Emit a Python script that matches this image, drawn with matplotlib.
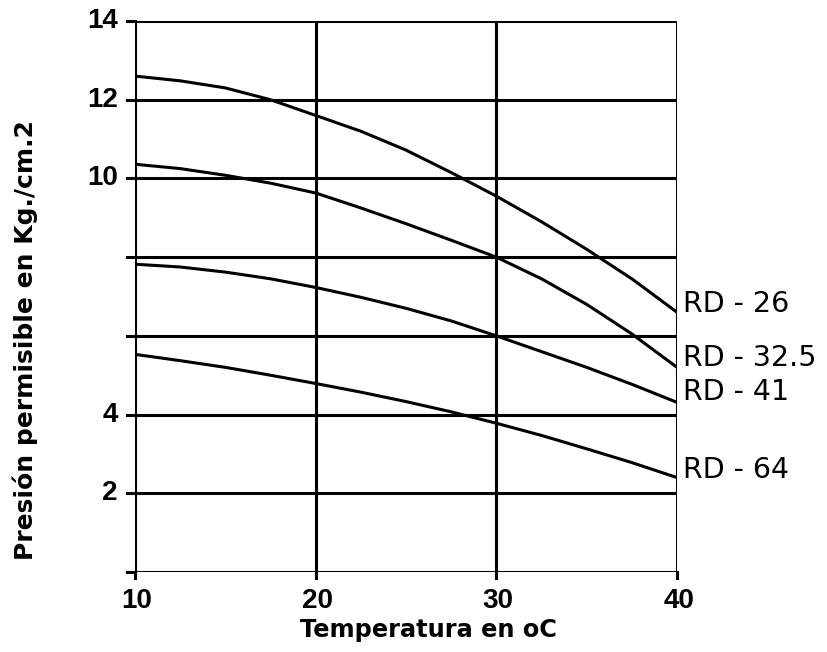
import matplotlib
matplotlib.use("Agg")
import matplotlib.pyplot as plt

plt.rcParams['font.family'] = ['Liberation Sans', 'DejaVu Sans']

temperature = [10, 12.5, 15, 17.5, 20, 22.5, 25, 27.5, 30, 32.5, 35, 37.5, 40]
rd_26 = [12.6, 12.48, 12.3, 12.0, 11.6, 11.2, 10.72, 10.15, 9.55, 8.9, 8.2, 7.45, 6.6]
rd_32_5 = [10.36, 10.25, 10.08, 9.88, 9.63, 9.25, 8.85, 8.43, 8.0, 7.45, 6.8, 6.05, 5.2]
rd_41 = [7.82, 7.75, 7.62, 7.45, 7.23, 6.98, 6.7, 6.38, 6.0, 5.6, 5.2, 4.77, 4.31]
rd_64 = [5.53, 5.37, 5.2, 5.0, 4.79, 4.57, 4.33, 4.07, 3.78, 3.47, 3.13, 2.78, 2.4]

series_labels = ["RD - 26", "RD - 32.5", "RD - 41", "RD - 64"]
label_y = [6.8, 5.45, 4.58, 2.6]

x_ticks = [10, 20, 30, 40]
y_grid = [0, 2, 4, 6, 8, 10, 12, 14]
y_tick_labels = {2: "2", 4: "4", 10: "10", 12: "12", 14: "14"}

fig = plt.figure(figsize=(8.27, 6.52), dpi=100)
ax = fig.add_axes([0.1632, 0.1227, 0.6554, 0.8451])
ax.set_xlim(10, 40)
ax.set_ylim(0, 14)

lw = 2.2
for yv in y_grid:
    ax.axhline(yv, color='black', lw=lw, zorder=1)
    ax.plot([9.55, 10], [yv, yv], color='black', lw=lw, clip_on=False, zorder=1)
for xv in x_ticks:
    ax.axvline(xv, color='black', lw=lw, zorder=1)
    ax.plot([xv, xv], [0, -0.15], color='black', lw=lw, clip_on=False, zorder=1)

for s, lab, ly in zip([rd_26, rd_32_5, rd_41, rd_64], series_labels, label_y):
    ax.plot(temperature, s, color='black', lw=2.2, zorder=3)
    ax.text(40.35, ly, lab, fontsize=20.5, va='center', ha='left', color='black',
            family=['DejaVu Sans'])

for sp in ax.spines.values():
    sp.set_visible(False)
ax.set_xticks([])
ax.set_yticks([])

for yv, txt in y_tick_labels.items():
    ax.text(9.06, yv, txt, fontsize=20, fontweight='bold', ha='right', va='center')
for xv in x_ticks:
    ax.text(xv + 0.1, -0.4, str(xv), fontsize=20, fontweight='bold', ha='center', va='top')

fig.text(0.5175, 0.034, "Temperatura en oC", fontsize=17.3, ha='center', va='center',
         fontweight='bold', family=['DejaVu Sans'])
fig.text(0.030, 0.479, "Presión permisible en Kg./cm.2", fontsize=18, rotation=90,
         ha='center', va='center', fontweight='bold', family=['DejaVu Sans'])

fig.savefig("out.png", dpi=100, facecolor='white')
